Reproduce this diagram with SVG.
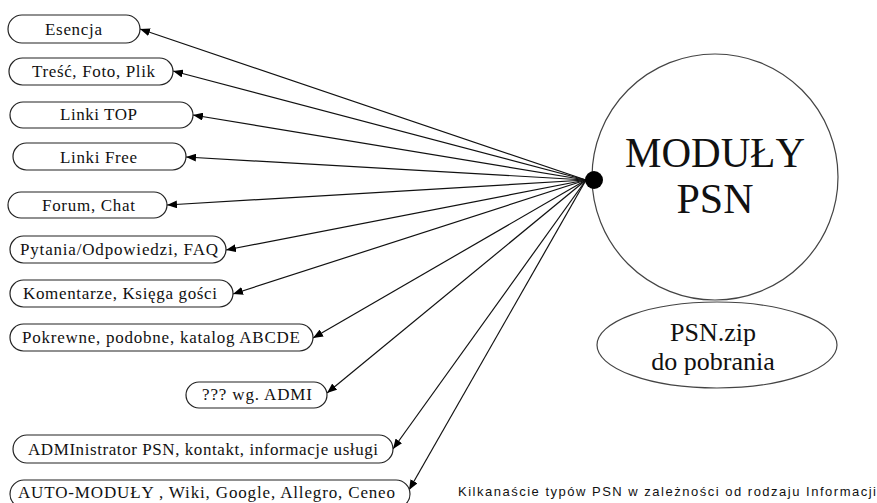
<svg xmlns="http://www.w3.org/2000/svg" width="877" height="503" viewBox="0 0 877 503">
  <defs>
    <marker id="arrow" viewBox="0 0 10 8" refX="10" refY="4" markerWidth="10" markerHeight="8" markerUnits="userSpaceOnUse" orient="auto">
      <path d="M0,0 L10,4 L0,8 Z" fill="#000"/>
    </marker>
    <style>
      .box { fill: #fff; stroke: #222; stroke-width: 1.2; }
      .lbl { font-family: 'Liberation Serif', 'Times New Roman', serif; font-size: 17px; fill: #111; }
      .big { font-family: 'Liberation Serif', 'Times New Roman', serif; fill: #111; text-anchor: middle; }
      .edge { stroke: #111; stroke-width: 1.2; fill: none; marker-end: url(#arrow); }
      .shape { fill: #fff; stroke: #444; stroke-width: 1.2; }
      .note { font-family: 'Liberation Sans', Arial, sans-serif; font-size: 13px; fill: #111; }
    </style>
  </defs>
  <rect width="877" height="503" fill="#fff"/>

  <!-- main module circle -->
  <g id="moduly">
    <circle class="shape" cx="715" cy="177" r="123"/>
    <text class="big" x="715" y="167" font-size="42px" textLength="180" lengthAdjust="spacingAndGlyphs">MODUŁY</text>
    <text class="big" x="715" y="213" font-size="42px">PSN</text>
  </g>

  <!-- download ellipse -->
  <g id="psnzip">
    <ellipse class="shape" cx="717" cy="345" rx="120" ry="43"/>
    <text class="big" x="713" y="341" font-size="26px">PSN.zip</text>
    <text class="big" x="713" y="370" font-size="26px">do pobrania</text>
  </g>

  <!-- connectors from the hub -->
  <g id="connectors">
    <line class="edge" x1="586" y1="180" x2="140" y2="29"/>
    <line class="edge" x1="586" y1="180" x2="173" y2="71"/>
    <line class="edge" x1="586" y1="180" x2="193" y2="115"/>
    <line class="edge" x1="586" y1="180" x2="186" y2="157"/>
    <line class="edge" x1="586" y1="180" x2="167" y2="205"/>
    <line class="edge" x1="586" y1="180" x2="226" y2="250"/>
    <line class="edge" x1="586" y1="180" x2="233" y2="294"/>
    <line class="edge" x1="586" y1="180" x2="313" y2="338"/>
    <line class="edge" x1="586" y1="180" x2="327" y2="393"/>
    <line class="edge" x1="586" y1="180" x2="393" y2="449"/>
    <line class="edge" x1="586" y1="180" x2="409" y2="490"/>
  </g>

  <g id="hub">
    <circle cx="594" cy="180" r="9" fill="#000"/>
  </g>

  <!-- module nodes -->
  <g id="n-esencja">
    <rect class="box" x="8" y="15" width="132" height="28" rx="14"/>
    <text class="lbl" x="45" y="35" textLength="57">Esencja</text>
  </g>
  <g id="n-tresc">
    <rect class="box" x="9" y="58" width="164" height="27" rx="13.5"/>
    <text class="lbl" x="32" y="77" textLength="123">Treść, Foto, Plik</text>
  </g>
  <g id="n-linki-top">
    <rect class="box" x="10" y="102" width="183" height="26" rx="13"/>
    <text class="lbl" x="60" y="120" textLength="77">Linki TOP</text>
  </g>
  <g id="n-linki-free">
    <rect class="box" x="13" y="143" width="173" height="27" rx="13.5"/>
    <text class="lbl" x="60" y="163" textLength="77">Linki Free</text>
  </g>
  <g id="n-forum">
    <rect class="box" x="8" y="192" width="159" height="26" rx="13"/>
    <text class="lbl" x="42" y="211" textLength="93">Forum, Chat</text>
  </g>
  <g id="n-pytania">
    <rect class="box" x="10" y="236" width="216" height="27" rx="13.5"/>
    <text class="lbl" x="20" y="255" textLength="198">Pytania/Odpowiedzi, FAQ</text>
  </g>
  <g id="n-komentarze">
    <rect class="box" x="10" y="280" width="223" height="27" rx="13.5"/>
    <text class="lbl" x="23" y="299" textLength="194">Komentarze, Księga gości</text>
  </g>
  <g id="n-pokrewne">
    <rect class="box" x="10" y="324" width="303" height="27" rx="13.5"/>
    <text class="lbl" x="22" y="343" textLength="278">Pokrewne, podobne, katalog ABCDE</text>
  </g>
  <g id="n-admi">
    <rect class="box" x="186" y="382" width="141" height="26" rx="13"/>
    <text class="lbl" x="202" y="400" textLength="110">??? wg. ADMI</text>
  </g>
  <g id="n-administrator">
    <rect class="box" x="13" y="435" width="380" height="28" rx="14"/>
    <text class="lbl" x="28" y="455" textLength="350">ADMInistrator PSN, kontakt, informacje usługi</text>
  </g>
  <g id="n-auto">
    <rect class="box" x="10" y="480" width="400" height="28" rx="14"/>
    <text class="lbl" x="18" y="498" textLength="377">AUTO-MODUŁY , Wiki, Google, Allegro, Ceneo</text>
  </g>

  <text class="note" x="458" y="496" textLength="418">Kilkanaście typów PSN w zależności od rodzaju Informacji</text>
</svg>
